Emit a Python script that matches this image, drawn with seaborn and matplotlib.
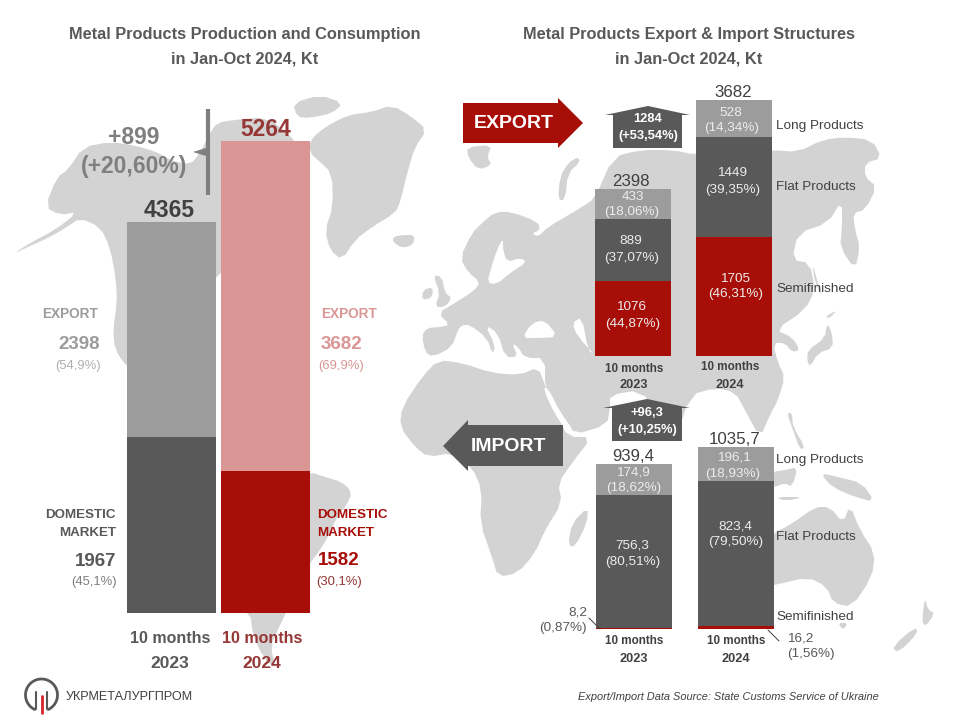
import matplotlib
matplotlib.use("Agg")
import matplotlib.pyplot as plt
import numpy as np
import seaborn as sns

# Chart data
years = ["10 months 2023", "10 months 2024"]
total_all = [4365, 5264]
domestic = [1967, 1582]
export_all = [2398, 3682]
export_share = ["(54,9%)", "(69,9%)"]
domestic_share = ["(45,1%)", "(30,1%)"]

exp_semi = [1076, 1705]
exp_flat = [889, 1449]
exp_long = [433, 528]
exp_total = [2398, 3682]
exp_semi_pct = ["(44,87%)", "(46,31%)"]
exp_flat_pct = ["(37,07%)", "(39,35%)"]
exp_long_pct = ["(18,06%)", "(14,34%)"]

imp_semi = [8.2, 16.2]
imp_flat = [756.3, 823.4]
imp_long = [174.9, 196.1]
imp_total = [939.4, 1035.7]
imp_semi_pct = ["(0,87%)", "(1,56%)"]
imp_flat_pct = ["(80,51%)", "(79,50%)"]
imp_long_pct = ["(18,62%)", "(18,93%)"]

# Colours
GREY = "#9c9c9c"
DARK = "#595959"
RED = "#a80e08"
PINK = "#d99694"
WINE = "#953735"
MAP = "#d3d3d3"
TXT = "#404040"

# Background map outlines, in picture pixels (decoration only)
land = [
    # North America, stops behind the first bar
    [(13, 254), (28, 247), (50, 237), (67, 227), (80, 218), (100, 227), (110, 247), (116, 280), (117, 303),
     (113, 330), (115, 350), (127, 367), (170, 400), (210, 300), (216, 272), (240, 272), (300, 200), (300, 150),
     (290, 135), (267, 117), (233, 120), (217, 123), (210, 133), (200, 153), (190, 165), (170, 160),
     (157, 152), (133, 145), (110, 142), (83, 147), (68, 170), (57, 177), (45, 207), (60, 215), (78, 212),
     (55, 230), (30, 243)],
    # South America
    [(225, 480), (310, 472), (325, 477), (342, 482), (352, 492), (347, 505), (337, 517), (328, 537), (318, 553),
     (310, 563), (280, 625), (270, 647), (277, 670), (263, 657), (253, 635), (250, 612), (225, 600)],
    # Ellesmere
    [(293, 103), (320, 95), (343, 103), (333, 113), (310, 118), (297, 117)],
    # Greenland
    [(310, 140), (325, 127), (348, 115), (372, 112), (392, 105), (412, 117), (427, 130), (415, 147), (408, 170),
     (400, 203), (395, 213), (372, 227), (355, 240), (342, 260), (330, 250), (325, 230), (333, 207), (332, 173),
     (318, 160), (310, 153)],
    # Iceland
    [(393, 237), (402, 235), (415, 235), (413, 245), (402, 248), (393, 242)],
    # Svalbard, Novaya Zemlya
    [(467, 147), (492, 145), (487, 157), (492, 165), (478, 170), (468, 157)],
    [(578, 157), (580, 162), (568, 173), (565, 200), (558, 200), (560, 177), (568, 163)],
    # Britain, Ireland
    [(433, 275), (442, 277), (445, 293), (452, 298), (445, 307), (435, 307), (440, 293)],
    [(423, 290), (433, 287), (432, 298), (422, 300)],
    # Eurasia
    [(425, 352), (422, 335), (427, 328), (440, 327), (450, 325), (438, 313), (455, 303), (475, 290), (480, 282),
     (468, 272), (460, 258), (472, 233), (482, 223), (495, 212), (512, 212), (538, 222), (540, 230), (532, 233),
     (538, 237), (548, 227), (572, 213), (582, 207), (595, 198), (613, 157), (640, 150), (673, 150), (696, 155),
     (772, 150), (798, 152), (822, 140), (845, 137), (872, 140), (882, 158), (865, 163), (865, 177), (877, 187),
     (865, 210), (853, 213), (855, 230), (860, 247), (855, 270), (840, 247), (842, 230), (842, 200), (828, 223),
     (798, 233), (792, 260), (810, 263), (815, 290), (805, 310), (775, 330), (792, 337), (800, 350), (792, 352),
     (785, 343), (773, 343), (778, 363), (785, 377), (778, 400), (770, 415), (760, 438), (745, 410), (735, 392),
     (715, 388), (690, 395), (675, 442), (660, 415), (640, 390), (610, 395), (610, 408), (607, 425), (573, 435),
     (557, 415), (545, 388), (545, 358), (525, 358), (518, 347), (512, 343), (518, 357), (505, 357), (498, 333),
     (485, 325), (495, 345), (493, 355), (487, 338), (470, 325), (462, 325), (458, 330), (452, 347), (433, 357)],
    # Africa
    [(422, 377), (438, 360), (462, 363), (492, 373), (520, 375), (538, 367), (545, 385), (558, 417), (568, 437),
     (592, 437), (572, 463), (558, 483), (562, 503), (545, 530), (535, 553), (518, 573), (498, 577), (492, 557),
     (480, 523), (482, 490), (472, 467), (452, 453), (428, 457), (415, 447), (400, 427), (402, 407)],
    # Madagascar
    [(588, 507), (587, 523), (575, 547), (568, 545), (572, 523)],
    # Japan, Sakhalin
    [(807, 360), (808, 350), (825, 338), (827, 323), (832, 333), (833, 348), (818, 353), (810, 367)],
    [(825, 317), (837, 310), (830, 318)],
    [(812, 262), (820, 290), (823, 297), (815, 283)],
    # Philippines, Borneo, New Guinea, Java
    [(787, 413), (792, 413), (793, 427), (805, 447), (800, 450), (792, 427)],
    [(772, 472), (785, 470), (798, 467), (792, 487), (785, 483), (772, 488)],
    [(820, 473), (838, 477), (862, 483), (875, 502), (855, 497), (832, 487)],
    [(775, 497), (805, 497), (785, 501)],
    # Australia, Tasmania
    [(770, 535), (790, 525), (815, 507), (830, 507), (843, 523), (850, 505), (860, 530), (875, 553), (872, 577),
     (852, 607), (833, 603), (827, 587), (808, 577), (775, 585), (770, 585)],
    [(838, 623), (848, 623), (843, 630)],
    # New Zealand
    [(925, 597), (928, 610), (935, 613), (925, 627), (922, 620)],
    [(915, 627), (918, 633), (898, 653), (892, 647)],
]
seas = [
    # Baltic
    [(503, 238), (497, 250), (492, 265), (487, 283), (497, 284), (510, 273), (527, 262), (520, 258), (507, 262), (503, 250)],
    # Black Sea, Caspian
    [(522, 338), (532, 323), (545, 320), (558, 337), (538, 338)],
    [(572, 323), (582, 317), (588, 350), (595, 355), (578, 337)],
    # Red Sea
    [(543, 388), (555, 415), (570, 434), (574, 431), (560, 412), (548, 388)],
]

sns.set_theme(style="white")
plt.rcParams["font.family"] = ["Liberation Sans", "DejaVu Sans"]

W, H = 960, 720
fig = plt.figure(figsize=(W / 100, H / 100), dpi=100, facecolor="white")


def pixel_axes(zorder):
    ax = fig.add_axes([0, 0, 1, 1], zorder=zorder)
    ax.set_xlim(0, W)
    ax.set_ylim(H, 0)
    ax.axis("off")
    ax.patch.set_alpha(0)
    return ax


def panel(left, right, top, bottom):
    ax = fig.add_axes([left / W, 1 - bottom / H, (right - left) / W, (bottom - top) / H], zorder=1)
    ax.patch.set_alpha(0)
    return ax


def finish(ax, ymax):
    ax.set_xlim(-0.5, 1.5)
    ax.set_ylim(0, ymax)
    ax.axis("off")


def cum(*parts):
    return [sum(p) for p in zip(*parts)]


def soften(shape):
    # one round of corner cutting, the map looks less like a polygon
    pts = np.array(shape, dtype=float)
    nxt = np.roll(pts, -1, axis=0)
    out = np.empty((len(pts) * 2, 2))
    out[0::2] = 0.75 * pts + 0.25 * nxt
    out[1::2] = 0.25 * pts + 0.75 * nxt
    return out


bg = pixel_axes(0)
for shape in land:
    xy = soften(shape)
    bg.fill(xy[:, 0], xy[:, 1], color=MAP, lw=0)
for shape in seas:
    xy = soften(shape)
    bg.fill(xy[:, 0], xy[:, 1], color="white", lw=0)

bar_kw = dict(saturation=1, linewidth=0)

# Left chart: production split into export and domestic market
ax1 = panel(124.5, 312.5, 141, 613)
sns.barplot(x=years, y=total_all, hue=years, palette=[GREY, PINK], legend=False, dodge=False,
            width=0.947, ax=ax1, **bar_kw)
sns.barplot(x=years, y=domestic, hue=years, palette=[DARK, RED], legend=False, dodge=False,
            width=0.947, ax=ax1, **bar_kw)
finish(ax1, max(total_all))

# Export structure, bars painted from the tallest stack down
ax2 = panel(582.5, 784.5, 100, 356)
sns.barplot(x=years, y=cum(exp_semi, exp_flat, exp_long), color=GREY, width=0.752, ax=ax2, **bar_kw)
sns.barplot(x=years, y=cum(exp_semi, exp_flat), color=DARK, width=0.752, ax=ax2, **bar_kw)
sns.barplot(x=years, y=exp_semi, color=RED, width=0.752, ax=ax2, **bar_kw)
finish(ax2, max(exp_total))

# Import structure
ax3 = panel(583, 787, 447, 629)
sns.barplot(x=years, y=cum(imp_semi, imp_flat, imp_long), color=GREY, width=0.745, ax=ax3, **bar_kw)
sns.barplot(x=years, y=cum(imp_semi, imp_flat), color=DARK, width=0.745, ax=ax3, **bar_kw)
sns.barplot(x=years, y=imp_semi, color=RED, width=0.745, ax=ax3, **bar_kw)
finish(ax3, max(imp_total))

top = pixel_axes(2)


def put(x, y, s, size, color=TXT, bold=False, ha="center", **kw):
    # va=center sits a little high for this font
    top.text(x, y + 1.5, s, fontsize=size, color=color, ha=ha, va="center",
             fontweight="bold" if bold else "normal", **kw)


def comma(v):
    return str(v).replace(".", ",")


# Titles
put(245, 33, "Metal Products Production and Consumption", 11.8, DARK, True)
put(245, 57, "in Jan-Oct 2024, Kt", 11.8, DARK, True)
put(689, 33, "Metal Products Export & Import Structures", 11.8, DARK, True)
put(689, 57, "in Jan-Oct 2024, Kt", 11.8, DARK, True)

# Left chart labels
put(169, 209, str(total_all[0]), 16.5, TXT, True)
put(266, 128, str(total_all[1]), 16.5, WINE, True)
put(134, 136, f"+{total_all[1] - total_all[0]}", 16.5, "#7f7f7f", True)
put(134, 165, "(+20,60%)", 16.5, "#7f7f7f", True)
top.plot([208, 208], [109, 195], color="#7f7f7f", lw=3, solid_capstyle="butt")
top.fill([193, 206, 206], [152, 148, 156], color="#7f7f7f", lw=0)

put(70, 313, "EXPORT", 9.8, GREY, True)
put(79, 343, str(export_all[0]), 13.5, GREY, True)
put(78, 365, export_share[0], 9.4, "#b0b0b0")
put(349, 313, "EXPORT", 9.8, PINK, True)
put(341, 343, str(export_all[1]), 13.5, PINK, True)
put(341, 365, export_share[1], 9.4, PINK)

put(116, 513, "DOMESTIC", 9.6, DARK, True, ha="right")
put(116, 532, "MARKET", 9.6, DARK, True, ha="right")
put(116, 560, str(domestic[0]), 13.5, DARK, True, ha="right")
put(117, 581, domestic_share[0], 9.4, "#7f7f7f", ha="right")
put(317, 513, "DOMESTIC", 9.6, RED, True, ha="left")
put(317, 532, "MARKET", 9.6, RED, True, ha="left")
put(318, 559, str(domestic[1]), 13.5, RED, True, ha="left")
put(339, 581, domestic_share[1], 9.4, WINE)

put(170, 637, "10 months", 11.5, DARK, True)
put(170, 662, "2023", 12.5, DARK, True)
put(262, 637, "10 months", 11.5, WINE, True)
put(262, 662, "2024", 12.5, WINE, True)

# Export / import arrows
top.fill([463, 558, 558, 583, 558, 558, 463], [103, 103, 98, 123, 148, 143, 143], color=RED, lw=0)
put(514, 122, "EXPORT", 14, "white", True)
top.fill([563, 468, 468, 443, 468, 468, 563], [425, 425, 420, 446, 471, 466, 466], color=DARK, lw=0)
put(508, 445, "IMPORT", 14, "white", True)

top.fill([605, 648, 690, 682, 682, 613, 613], [115, 106, 115, 115, 148, 148, 115], color=DARK, lw=0)
put(648, 118, str(exp_total[1] - exp_total[0]), 9.3, "white", True)
put(648, 134, "(+53,54%)", 9.3, "white", True)
top.fill([603, 647, 690, 682, 682, 612, 612], [408, 399, 408, 408, 441, 441, 408], color=DARK, lw=0)
put(647, 412, "+96,3", 9.3, "white", True)
put(647, 428, "(+10,25%)", 9.3, "white", True)

# Export labels
LIGHT = "#ececec"
LBL = 9.7
put(631, 180, str(exp_total[0]), 12.2, TXT)
put(733, 91, str(exp_total[1]), 12.2, TXT)
put(633, 195, str(exp_long[0]), LBL, LIGHT)
put(632, 211, exp_long_pct[0], LBL, LIGHT)
put(631, 240, str(exp_flat[0]), LBL, LIGHT)
put(632, 256, exp_flat_pct[0], LBL, LIGHT)
put(631, 306, str(exp_semi[0]), LBL, LIGHT)
put(633, 322, exp_semi_pct[0], LBL, LIGHT)
put(731, 111, str(exp_long[1]), LBL, LIGHT)
put(732, 127, exp_long_pct[1], LBL, LIGHT)
put(732, 172, str(exp_flat[1]), LBL, LIGHT)
put(733, 188, exp_flat_pct[1], LBL, LIGHT)
put(735, 277, str(exp_semi[1]), LBL, LIGHT)
put(736, 293, exp_semi_pct[1], LBL, LIGHT)
put(634, 367, "10 months", 8.4, TXT, True)
put(634, 384, "2023", 9.2, TXT, True)
put(730, 366, "10 months", 8.4, TXT, True)
put(730, 383, "2024", 9.2, TXT, True)
put(776, 125, "Long Products", 9.7, TXT, ha="left")
put(776, 185, "Flat Products", 9.7, TXT, ha="left")
put(776, 288, "Semifinished", 9.7, TXT, ha="left")

# Import labels
put(633, 455, comma(imp_total[0]), 12.2, TXT)
put(735, 438, comma(imp_total[1]), 12.2, TXT)
put(633, 471, comma(imp_long[0]), LBL, LIGHT)
put(634, 487, imp_long_pct[0], LBL, LIGHT)
put(632, 544, comma(imp_flat[0]), LBL, LIGHT)
put(633, 560, imp_flat_pct[0], LBL, LIGHT)
put(734, 456, comma(imp_long[1]), LBL, LIGHT)
put(733, 472, imp_long_pct[1], LBL, LIGHT)
put(735, 525, comma(imp_flat[1]), LBL, LIGHT)
put(736, 541, imp_flat_pct[1], LBL, LIGHT)
put(587, 611, comma(imp_semi[0]), LBL, DARK, ha="right")
put(587, 626, imp_semi_pct[0], LBL, DARK, ha="right")
top.plot([589, 600], [618, 629], color=TXT, lw=0.7)
put(787, 637, comma(imp_semi[1]), LBL, DARK, ha="left")
put(787, 652, imp_semi_pct[1], LBL, DARK, ha="left")
top.plot([768, 779], [630, 641], color=TXT, lw=0.7)
put(634, 640, "10 months", 8.4, TXT, True)
put(634, 657, "2023", 9.2, TXT, True)
put(736, 640, "10 months", 8.4, TXT, True)
put(736, 657, "2024", 9.2, TXT, True)
put(776, 459, "Long Products", 9.7, TXT, ha="left")
put(776, 536, "Flat Products", 9.7, TXT, ha="left")
put(776, 616, "Semifinished", 9.7, TXT, ha="left")

put(879, 696, "Export/Import Data Source: State Customs Service of Ukraine", 7.9, TXT, ha="right", style="italic")

# Logo
t = np.radians(np.linspace(115, 425, 60))
top.plot(41.5 + 16 * np.cos(t), 695 + 16 * np.sin(t), color=DARK, lw=2)
top.plot([36, 36], [692, 709], color=DARK, lw=1.5)
top.plot([47, 47], [692, 709], color=DARK, lw=1.5)
top.plot([41.5, 41.5], [696, 713], color="#d8232a", lw=2)
put(66, 696, "УКРМЕТАЛУРГПРОМ", 9.1, TXT, ha="left")

fig.savefig("out.png", dpi=100, facecolor="white")
